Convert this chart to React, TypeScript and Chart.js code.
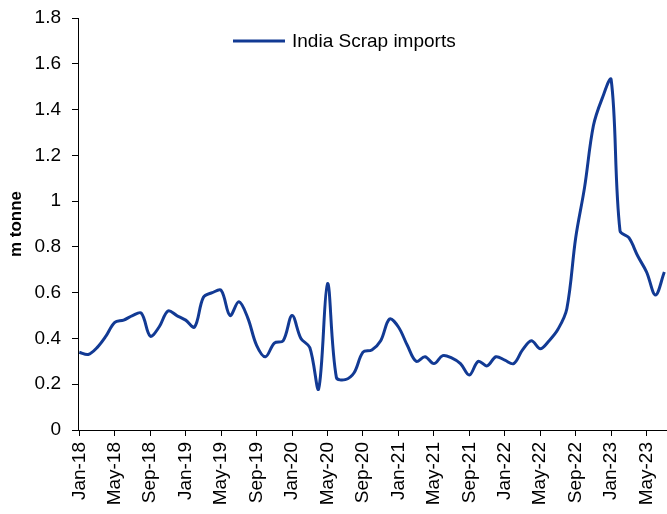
import { useEffect, useRef } from "react";
import { Chart, registerables } from "chart.js";

Chart.register(...registerables);

// Monthly categories, Jan-18 .. Jul-23
const months = [
  "Jan-18", "Feb-18", "Mar-18", "Apr-18", "May-18", "Jun-18", "Jul-18", "Aug-18", "Sep-18", "Oct-18", "Nov-18", "Dec-18",
  "Jan-19", "Feb-19", "Mar-19", "Apr-19", "May-19", "Jun-19", "Jul-19", "Aug-19", "Sep-19", "Oct-19", "Nov-19", "Dec-19",
  "Jan-20", "Feb-20", "Mar-20", "Apr-20", "May-20", "Jun-20", "Jul-20", "Aug-20", "Sep-20", "Oct-20", "Nov-20", "Dec-20",
  "Jan-21", "Feb-21", "Mar-21", "Apr-21", "May-21", "Jun-21", "Jul-21", "Aug-21", "Sep-21", "Oct-21", "Nov-21", "Dec-21",
  "Jan-22", "Feb-22", "Mar-22", "Apr-22", "May-22", "Jun-22", "Jul-22", "Aug-22", "Sep-22", "Oct-22", "Nov-22", "Dec-22",
  "Jan-23", "Feb-23", "Mar-23", "Apr-23", "May-23", "Jun-23", "Jul-23",
];

// India scrap imports, m tonne
const scrapImports = [
  0.34, 0.33, 0.36, 0.41, 0.47, 0.48, 0.50, 0.51, 0.41, 0.45, 0.52, 0.50,
  0.48, 0.45, 0.58, 0.60, 0.61, 0.50, 0.56, 0.49, 0.37, 0.32, 0.38, 0.39,
  0.50, 0.40, 0.36, 0.18, 0.64, 0.23, 0.22, 0.25, 0.34, 0.35, 0.39, 0.485,
  0.45, 0.37, 0.30, 0.32, 0.29, 0.325, 0.315, 0.29, 0.24, 0.30, 0.28, 0.32,
  0.305, 0.29, 0.35, 0.39, 0.355, 0.39, 0.44, 0.53, 0.84, 1.06, 1.33, 1.45,
  1.53, 0.87, 0.84, 0.76, 0.69, 0.59, 0.69,
];

const SERIES_LABEL = "India Scrap imports";
const SERIES_COLOR = "#123a94";
const AXIS_TITLE = "m tonne";
const FONT = "'Liberation Sans', Arial, Helvetica, sans-serif";

// Single-entry legend drawn inside the plot, near the top
const inlineLegend = {
  id: "inlineLegend",
  afterDraw(chart: any) {
    const ds = chart.data.datasets[0];
    const ctx = chart.ctx as CanvasRenderingContext2D;
    const y = 41;
    ctx.save();
    ctx.strokeStyle = ds.borderColor;
    ctx.lineWidth = 3;
    ctx.beginPath();
    ctx.moveTo(233, y);
    ctx.lineTo(285, y);
    ctx.stroke();
    ctx.fillStyle = "#000";
    ctx.font = `19px ${FONT}`;
    ctx.textAlign = "left";
    ctx.textBaseline = "middle";
    ctx.fillText(ds.label, 292, y + 1);
    ctx.restore();
  },
};

export default function App() {
  const canvasRef = useRef<HTMLCanvasElement | null>(null);

  useEffect(() => {
    const canvas = canvasRef.current;
    if (!canvas) return;
    const chart = new Chart(canvas, {
      type: "line",
      data: {
        datasets: [
          {
            label: SERIES_LABEL,
            data: scrapImports.map((v, i) => ({ x: i, y: v })),
            borderColor: SERIES_COLOR,
            backgroundColor: SERIES_COLOR,
            borderWidth: 3,
            pointRadius: 0,
            tension: 0.35,
            fill: false,
          },
        ],
      },
      options: {
        animation: false,
        responsive: false,
        maintainAspectRatio: false,
        layout: { padding: { top: 18, right: 0, bottom: 0, left: 0 } },
        plugins: {
          legend: { display: false },
          tooltip: { enabled: false },
        },
        scales: {
          x: {
            type: "linear",
            min: -0.15,
            max: 66.3,
            afterFit: (s: any) => {
              s.height = 84;
              s.paddingRight = 0;
              s.paddingLeft = 0;
            },
            grid: {
              display: true,
              drawOnChartArea: false,
              drawTicks: true,
              tickLength: 6,
              color: "#000",
            },
            border: { display: true, color: "#000", width: 1 },
            ticks: {
              stepSize: 4,
              includeBounds: false,
              autoSkip: false,
              maxRotation: 90,
              minRotation: 90,
              padding: 6,
              color: "#000",
              font: { family: FONT, size: 19 },
              callback: (v: any) => months[Math.round(Number(v))] ?? "",
            },
          },
          y: {
            min: 0,
            max: 1.8,
            afterFit: (s: any) => {
              s.width = 78;
              s.paddingTop = 0;
              s.paddingBottom = 0;
            },
            grid: {
              display: true,
              drawOnChartArea: false,
              drawTicks: true,
              tickLength: 6,
              color: "#000",
            },
            border: { display: true, color: "#000", width: 1 },
            ticks: {
              stepSize: 0.2,
              padding: 11,
              color: "#000",
              font: { family: FONT, size: 19 },
              callback: (v: any) => String(Math.round(Number(v) * 10) / 10),
            },
            title: {
              display: true,
              text: AXIS_TITLE,
              color: "#000",
              font: { family: FONT, size: 17, weight: "bold" },
              padding: { top: 6, bottom: 0 },
            },
          },
        },
      },
      plugins: [inlineLegend],
    });
    return () => chart.destroy();
  }, []);

  return (
    <div style={{ position: "fixed", left: 0, top: 0, width: 667, height: 514, background: "#fff" }}>
      <canvas ref={canvasRef} width={667} height={514} style={{ width: 667, height: 514 }} />
    </div>
  );
}
